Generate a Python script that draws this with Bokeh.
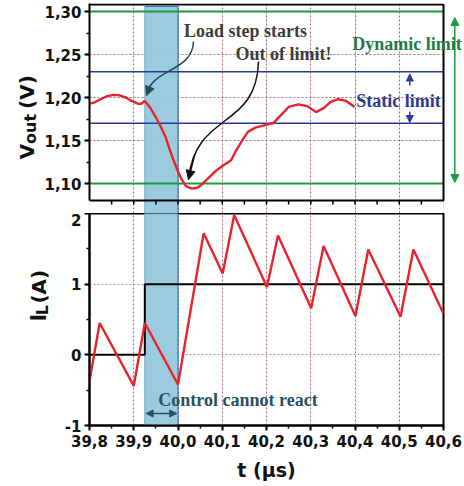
import numpy as np
from bokeh.plotting import figure
from bokeh.layouts import column, row
from bokeh.models import (Range1d, Label, Arrow, NormalHead, Grid, SingleIntervalTicker,
                          CustomJSTickFormatter)
from bokeh.embed import file_html
from bokeh.resources import INLINE

# ---------------- data ----------------
t_vout = [39.802, 39.814, 39.825, 39.839, 39.854, 39.868, 39.882, 39.895, 39.911, 39.918,
          39.925, 39.936, 39.950, 39.961, 39.972, 39.981, 39.990, 40.000, 40.008, 40.018,
          40.031, 40.043, 40.052, 40.068, 40.086, 40.102, 40.120, 40.131, 40.145, 40.158,
          40.175, 40.190, 40.205, 40.215, 40.230, 40.250, 40.272, 40.292, 40.312, 40.330,
          40.345, 40.362, 40.380, 40.399]
vout = [1.193, 1.195, 1.198, 1.2015, 1.203, 1.2025, 1.200, 1.196, 1.1925, 1.193,
        1.196, 1.189, 1.177, 1.166, 1.154, 1.140, 1.127, 1.114, 1.105, 1.097,
        1.094, 1.095, 1.098, 1.106, 1.115, 1.121, 1.127, 1.138, 1.150, 1.160,
        1.165, 1.167, 1.169, 1.170, 1.178, 1.189, 1.192, 1.190, 1.183, 1.188,
        1.195, 1.198, 1.196, 1.189]

t_il = [39.800, 39.823, 39.900, 39.925, 40.000, 40.058, 40.101, 40.127, 40.201,
        40.226, 40.301, 40.329, 40.401, 40.430, 40.503, 40.532, 40.600]
il = [-0.37, 0.45, -0.44, 0.45, -0.42, 1.72, 1.15, 1.98, 0.96,
      1.69, 0.66, 1.54, 0.55, 1.49, 0.54, 1.49, 0.58]

t_step = [39.800, 39.925, 39.925, 40.600]
i_step = [0, 0, 1, 1]

static_limits = [1.17, 1.23]
dynamic_limits = [1.10, 1.30]
shade_t = [39.925, 40.000]

t_range = [39.8, 40.6]
il_range = [-1, 2]

# ---------------- styling ----------------
RED = "#e8232d"
GREEN = "#1f9a40"
BLUE = "#2b3b9c"
SHADE = "#95c8dc"
SHADE_EDGE_L = "#6aaacb"
SHADE_EDGE_R = "#2f80b8"
GRID_V = "#a06a78"
GRID_H = "#a0a0a0"
SANS = "DejaVu Sans"
SERIF = "Liberation Serif"
PX_PER_T = 442.5

# pixel helpers (page layout: frame x 89..443, top panel V 1.30@y11, 860px/V; bottom -1@425, 2@213)
def tx(px):
    return 39.8 + (px - 89) / PX_PER_T

def vy(py):
    return 1.30 - (py - 11) / 860.0

def iy(py):
    return -1 + (425 - py) * 3.0 / 212.0

def style_axis(ax):
    ax.axis_line_width = 2
    ax.axis_line_color = "black"
    ax.major_tick_line_width = 2
    ax.minor_tick_line_width = 1.5
    ax.major_tick_out = 5
    ax.major_tick_in = 0
    ax.minor_tick_out = 3
    ax.minor_tick_in = 0
    ax.major_label_text_font = SANS
    ax.major_label_text_font_style = "bold"
    ax.major_label_text_font_size = "15px"
    ax.major_label_text_color = "#111111"
    ax.major_label_standoff = 3

def side_fig(w, h):
    f = figure(width=w, height=h, x_range=Range1d(0, w), y_range=Range1d(0, h),
               output_backend="svg", toolbar_location=None,
               x_axis_location=None, y_axis_location=None,
               min_border=0, min_border_left=0, min_border_right=0,
               min_border_top=0, min_border_bottom=0)
    f.outline_line_color = None
    f.xgrid.visible = False
    f.ygrid.visible = False
    return f

def rot_label(fig, x, y, text, size):
    fig.add_layout(Label(x=x, y=y, text=text, angle=np.pi / 2,
                         text_font=SANS, text_font_style="bold", text_font_size=size,
                         text_color="#111111", text_align="left", text_baseline="alphabetic"))

# ================= top panel =================
L1 = 40
p1 = figure(width=464 - L1, height=213,
            x_range=Range1d(t_range[0], t_range[1] + 21 / PX_PER_T),
            y_range=Range1d(vy(213), vy(3)),
            output_backend="svg", toolbar_location=None, x_axis_location=None,
            min_border_left=89 - L1, min_border_right=0, min_border_top=3, min_border_bottom=0)
p1.outline_line_color = None
p1.yaxis.ticker = SingleIntervalTicker(interval=0.05, num_minor_ticks=2)
p1.yaxis.formatter = CustomJSTickFormatter(code="return tick.toFixed(2).replace('.', ',');")
p1.yaxis.bounds = (vy(200), vy(3))
style_axis(p1.yaxis[0])
p1.ygrid.visible = False
p1.add_layout(Grid(dimension=0, ticker=SingleIntervalTicker(interval=0.1, num_minor_ticks=0),
                   bounds=(t_range[0] + 0.05, t_range[1] - 0.05),
                   grid_line_color=GRID_V, grid_line_dash="2 2", grid_line_width=1))
# horizontal dotted grid (limited to the panel width)
hg = np.round(np.arange(1.15, 1.26, 0.05), 2)
p1.segment(x0=[t_range[0]] * len(hg), y0=hg, x1=[t_range[1]] * len(hg), y1=hg,
           line_color=GRID_V, line_dash="2 2", line_width=1)

# shade
p1.quad(left=shade_t[0], right=shade_t[1], bottom=vy(216), top=vy(6),
        fill_color=SHADE, line_color=None, fill_alpha=0.95)
p1.segment(x0=[shade_t[0]], y0=[vy(6)], x1=[shade_t[0]], y1=[vy(216)], line_color=SHADE_EDGE_L, line_width=1)
p1.segment(x0=[shade_t[1]], y0=[vy(6)], x1=[shade_t[1]], y1=[vy(216)], line_color=SHADE_EDGE_R, line_width=1.2)
p1.segment(x0=[shade_t[0]], y0=[vy(6)], x1=[shade_t[1]], y1=[vy(6)], line_color=SHADE_EDGE_R, line_width=1)

# limit lines
for v in static_limits:
    p1.line(t_range, [v, v], line_color=BLUE, line_width=1.6)
for v in dynamic_limits:
    p1.line(t_range, [v, v], line_color=GREEN, line_width=2.2)

# panel border (top, right, bottom)
p1.line([t_range[0], t_range[1], t_range[1], t_range[0]], [vy(200), vy(200), vy(4), vy(4)],
        line_color="black", line_width=2)
# bottom ticks of top panel
tk = np.round(np.arange(t_range[0] + 0.05, t_range[1] - 0.01, 0.05), 3)
p1.segment(x0=tk, y0=[vy(200)] * len(tk), x1=tk, y1=[vy(204)] * len(tk),
           line_color="black", line_width=1.5)

# Vout curve
p1.line(t_vout, vout, line_color=RED, line_width=2.4)

# curved arrows
def bez(p0, c0, c1, p1_, s):
    return (1 - s) ** 3 * p0 + 3 * (1 - s) ** 2 * s * c0 + 3 * (1 - s) * s ** 2 * c1 + s ** 3 * p1_

def curved_arrow(fig, P0, C0, C1, P1, color):
    fig.bezier(x0=[P0[0]], y0=[P0[1]], x1=[P1[0]], y1=[P1[1]],
               cx0=[C0[0]], cy0=[C0[1]], cx1=[C1[0]], cy1=[C1[1]],
               line_color=color, line_width=1.5)
    s = 0.85
    bx = bez(P0[0], C0[0], C1[0], P1[0], s)
    by = bez(P0[1], C0[1], C1[1], P1[1], s)
    fig.add_layout(Arrow(end=NormalHead(size=9, fill_color=color, line_color=color),
                         x_start=bx, y_start=by, x_end=P1[0], y_end=P1[1],
                         line_color=color, line_width=1.5))

curved_arrow(p1, (tx(193), vy(41)), (tx(192), vy(72)), (tx(150), vy(68)), (tx(146), vy(95)), "#2a4a52")
curved_arrow(p1, (tx(258), vy(61)), (tx(256), vy(130)), (tx(195), vy(110)), (tx(188), vy(179)), "#111111")

# dynamic limit arrow (right of the panel border)
p1.add_layout(Arrow(start=NormalHead(size=8, fill_color=GREEN, line_color=GREEN),
                    end=NormalHead(size=8, fill_color=GREEN, line_color=GREEN),
                    x_start=tx(454.3), y_start=vy(182), x_end=tx(454.3), y_end=vy(17),
                    line_color=GREEN, line_width=1.5))
# static limit arrows
p1.add_layout(Arrow(end=NormalHead(size=7, fill_color=BLUE, line_color=BLUE),
                    x_start=tx(409.3), y_start=vy(85), x_end=tx(409.3), y_end=vy(73.5),
                    line_color=BLUE, line_width=1.5))
p1.add_layout(Arrow(end=NormalHead(size=7, fill_color=BLUE, line_color=BLUE),
                    x_start=tx(409.3), y_start=vy(111), x_end=tx(409.3), y_end=vy(122),
                    line_color=BLUE, line_width=1.5))

def ann(fig, x, y, text, color, size="18px"):
    fig.add_layout(Label(x=x, y=y, text=text, text_color=color, text_font=SERIF,
                         text_font_style="bold", text_font_size=size,
                         text_align="center", text_baseline="middle"))

ann(p1, tx(245), vy(30), "Load step starts", "#3c3c3c")
ann(p1, tx(283), vy(53), "Out of limit!", "#3c3c3c")
ann(p1, tx(406.5), vy(43), "Dynamic limit", "#1e7a45")
ann(p1, tx(398), vy(100), "Static limit", "#2d3a8c")

# left strip with the rotated y title V_out (V)
l1 = side_fig(L1, 213)
rot_label(l1, 26, 213 - 158, "V", "20px")
rot_label(l1, 30, 213 - 142.5, "out", "16px")
rot_label(l1, 26, 213 - 107, "(V)", "20px")

# ================= bottom panel =================
L2 = 60
p2 = figure(width=464 - L2, height=273, x_range=Range1d(t_range[0], t_range[1]),
            y_range=Range1d(il_range[0], il_range[1]),
            output_backend="svg", toolbar_location=None,
            min_border_left=89 - L2, min_border_right=21, min_border_top=0, min_border_bottom=61)
p2.outline_line_color = "black"
p2.outline_line_width = 2
p2.xaxis.ticker = SingleIntervalTicker(interval=0.1, num_minor_ticks=2)
p2.xaxis.formatter = CustomJSTickFormatter(code="return tick.toFixed(1).replace('.', ',');")
p2.yaxis.ticker = SingleIntervalTicker(interval=1, num_minor_ticks=2)
p2.yaxis.formatter = CustomJSTickFormatter(code="return tick.toFixed(0);")
style_axis(p2.xaxis[0])
style_axis(p2.yaxis[0])
p2.xaxis.major_label_standoff = 4
p2.xaxis.axis_label = "t (\u03bcs)"
p2.xaxis.axis_label_text_font = SANS
p2.xaxis.axis_label_text_font_style = "bold"
p2.xaxis.axis_label_text_font_size = "19px"
p2.xaxis.axis_label_text_color = "#111111"
p2.xaxis.axis_label_standoff = 9
p2.xgrid.grid_line_color = GRID_V
p2.xgrid.grid_line_dash = "2 2"
p2.ygrid.grid_line_color = GRID_H
p2.ygrid.grid_line_dash = "2 2"

p2.quad(left=shade_t[0], right=shade_t[1], bottom=il_range[0] - 0.5, top=il_range[1] + 0.5,
        fill_color=SHADE, line_color=None, fill_alpha=0.95)
p2.segment(x0=[shade_t[0]], y0=[il_range[0] - 0.5], x1=[shade_t[0]], y1=[il_range[1] + 0.5],
           line_color=SHADE_EDGE_L, line_width=1)
p2.segment(x0=[shade_t[1]], y0=[il_range[0] - 0.5], x1=[shade_t[1]], y1=[il_range[1] + 0.5],
           line_color=SHADE_EDGE_R, line_width=1.2)

p2.line(t_step, i_step, line_color="black", line_width=2)
p2.line(t_il, il, line_color=RED, line_width=2.4)

p2.add_layout(Arrow(start=NormalHead(size=7, fill_color="#2a5060", line_color="#2a5060"),
                    end=NormalHead(size=7, fill_color="#2a5060", line_color="#2a5060"),
                    x_start=shade_t[0] + 0.003, y_start=iy(413), x_end=shade_t[1] - 0.003, y_end=iy(413),
                    line_color="#2a5060", line_width=1.5))
ann(p2, tx(237.5), iy(399), "Control cannot react", "#2a5060")

# left strip with the rotated y title I_L (A)
l2 = side_fig(L2, 273)
rot_label(l2, 38, 486 - 352, "I", "21px")
rot_label(l2, 42, 486 - 344, "L", "16px")
rot_label(l2, 38, 486 - 329, "(A)", "20px")

layout = column(row(l1, p1, spacing=0), row(l2, p2, spacing=0), spacing=0)
open("out.html", "w").write(file_html(layout, INLINE))
